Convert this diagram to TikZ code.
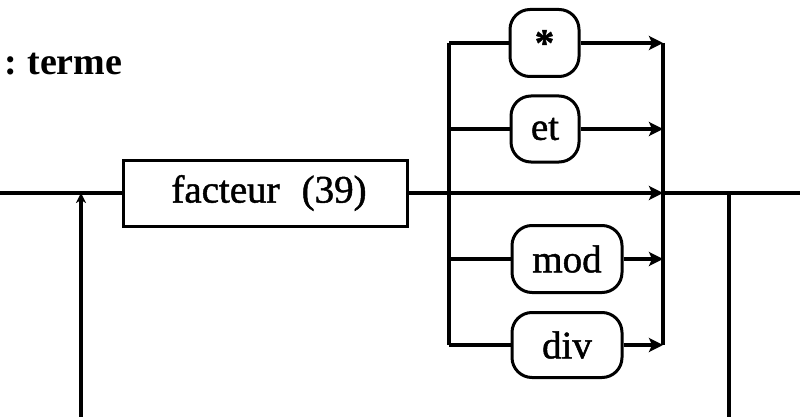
\documentclass[tikz,border=0pt]{standalone}
\usepackage{fontspec}
\setmainfont{Liberation Serif}
\newfontfamily\boxfont[FakeBold=1.2]{Liberation Serif}
\usetikzlibrary{arrows.meta}
\begin{document}
\begin{tikzpicture}[x=1pt,y=-1pt,line width=3.5pt,
  boxtext/.style={font=\boxfont\fontsize{39}{41}\selectfont, inner sep=0pt},
  rectbox/.style={draw, boxtext, line width=3pt},
  roundbox/.style={draw, boxtext, rounded corners=20pt, line width=3pt},
  arr/.style={-{Stealth[length=14pt,width=14pt,inset=3pt]}}]
\useasboundingbox (0,0) rectangle (800,417);
% title
\node[anchor=base west, inner sep=0pt, font=\fontsize{38}{40}\selectfont\bfseries] (title) at (3,75) {:\hspace{10pt}terme};
% boxes
\node[rectbox, minimum width=284pt, minimum height=66pt] (facteur) at (265,193) {\hspace{8pt}facteur\hspace{22pt}(39)};
\node[roundbox, minimum width=69pt, minimum height=67pt] (star) at (544.5,43) {\bfseries *};
\node[roundbox, minimum width=68pt, minimum height=66pt] (et) at (545,129) {et};
\node[roundbox, minimum width=110pt, minimum height=67pt] (mod) at (567,259) {mod};
\node[roundbox, minimum width=110pt, minimum height=65pt] (div) at (567,345) {div};
% coordinates
\coordinate (in) at (0,193);
\coordinate (out) at (800,193);
\coordinate (L1) at (449,43);
\coordinate (L2) at (449,129);
\coordinate (L3) at (449,193);
\coordinate (L4) at (449,259);
\coordinate (L5) at (449,345);
\coordinate (R1) at (663,43);
\coordinate (R2) at (663,129);
\coordinate (R3) at (663,193);
\coordinate (R4) at (663,259);
\coordinate (R5) at (663,345);
\coordinate (lb) at (81,417);
\coordinate (lt) at (81,193);
\coordinate (rt) at (729,193);
\coordinate (rb) at (729,417);
% main line
\draw (in) -- (facteur.west);
\draw[arr] (facteur.east) -- (R3);
\draw (R3) -- (out);
% branches
\draw (L1) -- (L5);
\draw (R1) -- (R5);
\draw (L1) -- (star.west);
\draw[arr] (star.east) -- (R1);
\draw (L2) -- (et.west);
\draw[arr] (et.east) -- (R2);
\draw (L4) -- (mod.west);
\draw[arr] (mod.east) -- (R4);
\draw (L5) -- (div.west);
\draw[arr] (div.east) -- (R5);
% loop
\draw[-{Stealth[length=10pt,width=10pt,inset=3pt]}] (lb) -- (lt);
\draw (rt) -- (rb);
\end{tikzpicture}
\end{document}
